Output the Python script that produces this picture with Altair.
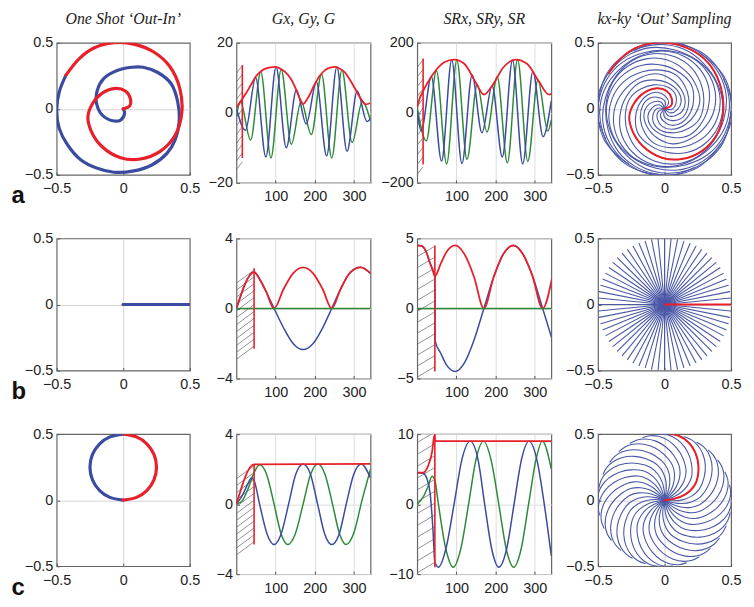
import altair as alt
import pandas as pd
import numpy as np

RED = "#e8202a"
BLUE = "#3b4b9f"
GREEN = "#2e8a3a"
ARM = "#4b58a6"
HATCH = "#777777"

TITLES = ["One Shot \u2018Out-In\u2019", "Gx, Gy, G", "SRx, SRy, SR", "kx-ky \u2018Out\u2019 Sampling"]
ROW_LABELS = ["a", "b", "c"]
T_MAX = 342

# ---------------- k-space values ----------------
a1_out_x = [0.0, 0.05, 0.053, 0.016, -0.058, -0.16, -0.23, -0.265, -0.24, -0.16, -0.02, 0.13, 0.28, 0.39, 0.44, 0.425, 0.35, 0.23, 0.08, -0.07, -0.22, -0.33, -0.43]
a1_out_y = [0.0, 0.025, 0.08, 0.135, 0.155, 0.117, 0.04, -0.06, -0.17, -0.285, -0.37, -0.38, -0.32, -0.2, -0.03, 0.155, 0.32, 0.43, 0.49, 0.5, 0.46, 0.38, 0.255]
a1_in_x = [-0.43, -0.48, -0.5, -0.48, -0.42, -0.32, -0.195, -0.07, 0.08, 0.215, 0.33, 0.39, 0.42, 0.41, 0.36, 0.26, 0.15, 0.065, -0.046, -0.145, -0.195, -0.2, -0.16, -0.08, -0.02, 0.01, 0.0]
a1_in_y = [0.255, 0.13, -0.01, -0.15, -0.27, -0.385, -0.45, -0.48, -0.47, -0.425, -0.335, -0.235, -0.1, 0.05, 0.19, 0.275, 0.315, 0.315, 0.29, 0.23, 0.14, 0.04, -0.045, -0.09, -0.085, -0.035, 0.0]

# one interleave of the 'out' sampling (same path as the red 'out' half above)
a4_arm_x = [0.0, 0.05, 0.053, 0.016, -0.058, -0.16, -0.23, -0.265, -0.24, -0.16, -0.02, 0.13, 0.28, 0.39, 0.44, 0.425, 0.35, 0.23, 0.08, -0.07, -0.22, -0.33, -0.42]
a4_arm_y = [0.0, 0.025, 0.08, 0.135, 0.155, 0.117, 0.04, -0.06, -0.17, -0.285, -0.37, -0.38, -0.32, -0.2, -0.03, 0.155, 0.32, 0.43, 0.49, 0.5, 0.46, 0.38, 0.27]
a4_arms = 12

b1_x = [0.0, 0.5]
b1_y = [0.0, 0.0]
b4_spoke_x = [0.0, 0.5]
b4_spoke_y = [0.0, 0.0]
b4_spokes = 64

c1_left_x = [0.0, -0.1, -0.177, -0.231, -0.25, -0.231, -0.177, -0.1, 0.0]
c1_left_y = [0.0, 0.021, 0.073, 0.154, 0.25, 0.346, 0.427, 0.479, 0.5]
c1_right_x = [0.0, 0.1, 0.177, 0.231, 0.25, 0.231, 0.177, 0.1, 0.0]
c1_right_y = [0.5, 0.479, 0.427, 0.346, 0.25, 0.154, 0.073, 0.021, 0.0]

c4_arc_x = [0.0, 0.07, 0.13, 0.19, 0.235, 0.255, 0.245, 0.21, 0.155, 0.1, 0.044]
c4_arc_y = [0.0, 0.01, 0.03, 0.07, 0.13, 0.23, 0.32, 0.4, 0.46, 0.49, 0.5]
c4_arcs = 30

# ---------------- waveforms ----------------
a2_g_t = [0, 12, 24, 37, 49, 62, 74, 87, 99, 112, 124, 137, 149, 160, 170, 182, 199, 212, 226, 239, 252, 264, 277, 289, 302, 316, 330, 342]
a2_g_v = [1.5, 3.5, 5.5, 8, 10.3, 11.8, 12.6, 13, 13.1, 12.6, 11.7, 10, 7.5, 4.5, 2.5, 4.2, 8, 10.5, 12.2, 12.9, 13.1, 12.6, 11.5, 9.5, 7, 4.2, 2.4, 2.8]
a2_gx_t = [0, 23, 49, 75, 101, 127, 153, 178, 204, 230, 256, 282, 308, 333, 342]
a2_gx_v = [1.2, -5.0, 10.0, -12.6, 13.1, -10.0, 6.5, -3.2, 8.8, -12.3, 13.1, -11.0, 6.2, -2.5, -1.5]
a2_gy_t = [0, 10, 36, 62, 88, 114, 140, 165, 191, 217, 243, 269, 295, 321, 342]
a2_gy_v = [-1.0, 3.2, -7.8, 11.7, -12.9, 12.4, -9.0, 3.2, -6.2, 11.0, -12.9, 12.2, -8.5, 3.2, -2.4]

a3_sr_t = [0, 6, 15, 40, 70, 94, 120, 150, 170, 190, 220, 251, 280, 310, 336, 342]
a3_sr_v = [15, 40, 62, 110, 145, 152, 140, 85, 52, 75, 130, 152, 140, 90, 52, 54]
a3_sx_t = [0, 10, 36, 62, 88, 114, 140, 165, 191, 217, 243, 269, 295, 321, 342]
a3_sx_v = [5, -52, 103, -138, 151, -145, 108, -57, 77, -126, 150, -146, 118, -68, 35]
a3_sy_t = [0, 23, 49, 75, 101, 127, 153, 178, 204, 230, 256, 282, 308, 333, 342]
a3_sy_v = [15, -80, 120, -146, 151, -133, 80, -55, 103, -143, 152, -139, 94, -52, -20]

b2_g_t = [0, 45, 60, 75, 96, 120, 145, 170, 195, 220, 243, 265, 290, 317, 342]
b2_g_v = [0, 2.08, 1.64, 1.0, 0, 1.1, 2.02, 2.35, 2.02, 1.1, 0, 1.08, 2.05, 2.35, 2.0]
b2_gx_t = [0, 45, 60, 75, 96, 120, 145, 170, 195, 220, 243, 265, 290, 317, 342]
b2_gx_v = [0, 2.08, 1.64, 1.0, 0, -1.1, -2.02, -2.35, -2.02, -1.1, 0, 1.08, 2.05, 2.35, 2.0]
b2_gy_t = [0, 342]
b2_gy_v = [0, 0]

b3_sr_t = [0, 12, 22, 32, 40, 45, 60, 75, 97, 120, 145, 170, 195, 220, 245, 268, 293, 320, 344]
b3_sr_v = [4.5, 4.45, 4.1, 3.3, 2.7, 2.3, 3.2, 4.05, 4.5, 3.9, 2.25, 0, 2.25, 3.9, 4.5, 3.95, 2.4, 0, 2.2]
b3_sx_t = [0, 12, 22, 32, 40, 45, 45.5, 60, 75, 97, 120, 145, 170, 195, 220, 245, 268, 293, 320, 344]
b3_sx_v = [4.5, 4.45, 4.1, 3.3, 2.7, 2.3, -2.3, -3.2, -4.05, -4.5, -3.9, -2.25, 0, 2.25, 3.9, 4.5, 3.95, 2.4, 0, -2.2]
b3_sy_t = [0, 344]
b3_sy_v = [0, 0]

c2_g_t = [0, 45, 342]
c2_g_v = [0, 2.27, 2.3]
c2_gx_t = [0, 15, 30, 38, 45, 59, 78, 96, 114, 133, 151, 170, 189, 207, 225, 243, 262, 280, 299, 318, 342]
c2_gx_v = [0, 0.5, 1.2, 1.5, 1.35, 0, -1.7, -2.3, -1.7, 0, 1.7, 2.3, 1.7, 0, -1.7, -2.3, -1.7, 0, 1.7, 2.3, 1.5]
c2_gy_t = [0, 15, 30, 45, 59, 77, 96, 114, 131, 150, 170, 189, 208, 226, 245, 263, 280, 300, 320, 342]
c2_gy_v = [0, 0.2, 0.9, 1.8, 2.25, 1.7, 0, -1.7, -2.3, -1.7, 0, 1.7, 2.3, 1.7, 0, -1.7, -2.3, -1.6, 0.2, 2.0]

c3_sr_t = [0, 15, 28, 38, 44, 45.5, 342]
c3_sr_v = [4.5, 4.5, 5.5, 7.5, 9.9, 9.0, 9.0]
c3_sx_t = [0, 15, 25, 33, 40, 45, 54, 73, 94, 114, 135, 155, 172, 190, 208, 228, 247, 266, 285, 305, 324, 342]
c3_sx_v = [4.5, 4.4, 3.6, 1.5, -3.5, -8.3, -9, -6.4, 0, 6.4, 9, 6.4, 0, -6.4, -9, -6.4, 0, 6.4, 9, 6.4, 0, -7.4]
c3_sy_t = [0, 15, 28, 38, 45, 54, 73, 92, 111, 131, 150, 169, 188, 208, 227, 246, 265, 284, 303, 319, 342]
c3_sy_v = [0, 1.0, 2.6, 4.0, 3.4, 0, -6.4, -9, -6.4, 0, 6.4, 9, 6.4, 0, -6.4, -9, -6.4, 0, 6.4, 9, 5]

# hatch bands: [t_end, y at t=0 of lowest line, y at t=0 of highest line, rise over band, lines]
a2_hatch = [15, -16.2, 11.3, 2.2, 12]
a3_hatch = [15, -176, 130, 22, 12]
b2_hatch = [45, -2.9, 1.45, 0.75, 12]
b3_hatch = [45, -4.9, 3.7, 0.75, 12]
c2_hatch = [45, -2.9, 1.45, 0.75, 12]
c3_hatch = [45, -9.8, 8.8, 1.5, 12]
# boundary rules: [t, ymin, ymax]
a2_rule = [15, -12.9, 13.6]
a3_rule = [15, -148, 155]
b2_rule = [45, -2.3, 2.3]
b3_rule = [45, -4.5, 4.5]
c2_rule = [45, -2.3, 2.3]
c3_rule = [45, -9.0, 10.0]

TICK = 3
AX_LABEL = dict(labelFont="Liberation Sans", labelFontSize=14.5, labelColor="#222",
                labelFlush=False, labelOverlap=False, domain=False,
                ticks=True, tickSize=TICK, offset=-TICK, tickColor="#555", tickWidth=1)

W, H = 135, 141
KW, KH = 134, 133
TITLE_STYLE = dict(font="Liberation Serif", fontStyle="italic", fontSize=16, fontWeight="normal",
                   color="#222", offset=8)


def path_df(xs, ys, name):
    return pd.DataFrame({"x": xs, "y": ys, "s": name, "i": range(len(xs))})


def rotated(xs, ys, n, name):
    frames = []
    xs = np.asarray(xs); ys = np.asarray(ys)
    for k in range(n):
        a = 2 * np.pi * k / n
        frames.append(pd.DataFrame({"x": xs * np.cos(a) - ys * np.sin(a),
                                    "y": xs * np.sin(a) + ys * np.cos(a),
                                    "s": f"{name}{k}", "i": range(len(xs))}))
    return pd.concat(frames, ignore_index=True)


def k_axes(label=None):
    grid_color = alt.condition("datum.value === 0", alt.value("#d4d4d4"), alt.value("transparent"))
    xa = dict(AX_LABEL)
    if label:
        xa.update(title=label, titleX=-46, titleY=31, titleAlign="left", titleBaseline="alphabetic",
                  titleFont="Liberation Sans", titleFontSize=24, titleFontWeight="bold", titleColor="#111",
                  titleAngle=0)
    else:
        xa.update(title=None)
    x = alt.X("x:Q", scale=alt.Scale(domain=[-0.5, 0.5], nice=False),
              axis=alt.Axis(values=[-0.5, 0, 0.5], format=".1~f", grid=True, gridColor=grid_color,
                            labelPadding=7, **xa))
    y = alt.Y("y:Q", scale=alt.Scale(domain=[-0.5, 0.5], nice=False),
              axis=alt.Axis(values=[-0.5, 0, 0.5], format=".1~f", grid=True, gridColor=grid_color,
                            title=None, labelPadding=4, **AX_LABEL))
    return x, y


def k_layer(df, color, width, x, y):
    return alt.Chart(df).mark_line(color=color, strokeWidth=width, clip=True, strokeCap="round",
                                   interpolate="catmull-rom").encode(x=x, y=y, detail="s:N", order="i:Q")


def k_panel(layers, title=None, label=None):
    x, y = k_axes(label)
    ch = alt.layer(*[k_layer(d, c, w, x, y) for d, c, w in layers]).properties(width=KW, height=KH)
    if title:
        ch = ch.properties(title=alt.TitleParams(title, **TITLE_STYLE))
    return ch


def series_df(ts, vs, name):
    return pd.DataFrame({"t": ts, "v": vs, "s": name, "i": range(len(ts))})


def hatch_df(spec):
    t_end, y_lo, y_hi, rise, n = spec
    step = (y_hi - y_lo) / (n - 1)
    ys = [y_lo + k * step for k in range(n)]
    return pd.DataFrame({"t0": [0] * n, "t1": [t_end] * n, "y0": ys, "y1": [v + rise for v in ys]})


def time_panel(series, ydom, yticks, hatch, rule, title=None):
    x = alt.X("t:Q", scale=alt.Scale(domain=[0, T_MAX], nice=False),
              axis=alt.Axis(values=[100, 200, 300], title=None, labelPadding=7, **AX_LABEL))
    y = alt.Y("v:Q", scale=alt.Scale(domain=ydom, nice=False),
              axis=alt.Axis(values=yticks, title=None, labelPadding=4, **AX_LABEL))
    hd = hatch_df(hatch)
    hat = alt.Chart(hd).mark_rule(color=HATCH, strokeWidth=0.8, clip=True).encode(
        x=alt.X("t0:Q", scale=alt.Scale(domain=[0, T_MAX], nice=False)), x2="t1:Q",
        y=alt.Y("y0:Q", scale=alt.Scale(domain=ydom, nice=False)), y2="y1:Q")
    layers = [hat]
    for ts, vs, color, wdt in series:
        layers.append(alt.Chart(series_df(ts, vs, color)).mark_line(
            color=color, strokeWidth=wdt, interpolate="monotone", clip=True).encode(x=x, y=y, order="i:Q"))
    rd = pd.DataFrame({"t": [rule[0]], "v": [rule[1]], "v2": [rule[2]]})
    layers.append(alt.Chart(rd).mark_rule(color=RED, strokeWidth=1.6).encode(x=x, y=y, y2="v2:Q"))
    ch = alt.layer(*layers).properties(width=W, height=H)
    if title:
        ch = ch.properties(title=alt.TitleParams(title, **TITLE_STYLE))
    return ch


# ---------- row a ----------
a1 = k_panel([(path_df(a1_in_x, a1_in_y, "in"), BLUE, 3.2),
              (path_df(a1_out_x, a1_out_y, "out"), RED, 3.2)], TITLES[0], ROW_LABELS[0])
a2 = time_panel([(a2_gy_t, a2_gy_v, GREEN, 1.5), (a2_gx_t, a2_gx_v, BLUE, 1.5), (a2_g_t, a2_g_v, RED, 1.8)],
                [-20, 20], [-20, -10, 0, 10, 20], a2_hatch, a2_rule, TITLES[1])
a3 = time_panel([(a3_sy_t, a3_sy_v, GREEN, 1.5), (a3_sx_t, a3_sx_v, BLUE, 1.5), (a3_sr_t, a3_sr_v, RED, 1.8)],
                [-200, 200], [-200, -100, 0, 100, 200], a3_hatch, a3_rule, TITLES[2])
a4 = k_panel([(rotated(a4_arm_x, a4_arm_y, a4_arms, "arm"), ARM, 1.1),
              (path_df(a4_arm_x, a4_arm_y, "red"), RED, 2.0)], TITLES[3])

# ---------- row b ----------
b1 = k_panel([(path_df(b1_x, b1_y, "r"), RED, 3.2), (path_df(b1_x, b1_y, "b"), BLUE, 3.2)], None, ROW_LABELS[1])
b2 = time_panel([(b2_gx_t, b2_gx_v, BLUE, 1.5), (b2_g_t, b2_g_v, RED, 1.8), (b2_gy_t, b2_gy_v, GREEN, 1.6)],
                [-4, 4], [-4, -2, 0, 2, 4], b2_hatch, b2_rule)
b3 = time_panel([(b3_sx_t, b3_sx_v, BLUE, 1.5), (b3_sr_t, b3_sr_v, RED, 1.8), (b3_sy_t, b3_sy_v, GREEN, 1.6)],
                [-5, 5], [-5, 0, 5], b3_hatch, b3_rule)
b4 = k_panel([(rotated(b4_spoke_x, b4_spoke_y, b4_spokes, "sp"), ARM, 1.1),
              (path_df(b4_spoke_x, b4_spoke_y, "red"), RED, 2.0)])

# ---------- row c ----------
c1 = k_panel([(path_df(c1_left_x, c1_left_y, "l"), BLUE, 3.2),
              (path_df(c1_right_x, c1_right_y, "r"), RED, 3.2)], None, ROW_LABELS[2])
c2 = time_panel([(c2_gy_t, c2_gy_v, GREEN, 1.5), (c2_gx_t, c2_gx_v, BLUE, 1.5), (c2_g_t, c2_g_v, RED, 1.8)],
                [-4, 4], [-4, -2, 0, 2, 4], c2_hatch, c2_rule)
c3 = time_panel([(c3_sy_t, c3_sy_v, GREEN, 1.5), (c3_sx_t, c3_sx_v, BLUE, 1.5), (c3_sr_t, c3_sr_v, RED, 1.8)],
                [-10, 10], [-10, -5, 0, 5, 10], c3_hatch, c3_rule)
c4 = k_panel([(rotated(c4_arc_x, c4_arc_y, c4_arcs, "arc"), ARM, 1.1),
              (path_df(c4_arc_x, c4_arc_y, "red"), RED, 2.0)])

chart = alt.concat(a1, a2, a3, a4, b1, b2, b3, b4, c1, c2, c3, c4, columns=4,
                   spacing={"row": 56, "column": 47}, bounds="flush").properties(
    padding={"left": 2, "top": 0, "right": 4, "bottom": 0}
).configure_view(stroke="#666666", strokeWidth=1.2)

chart.save("out.html", embed_options={"renderer": "svg", "actions": False})
